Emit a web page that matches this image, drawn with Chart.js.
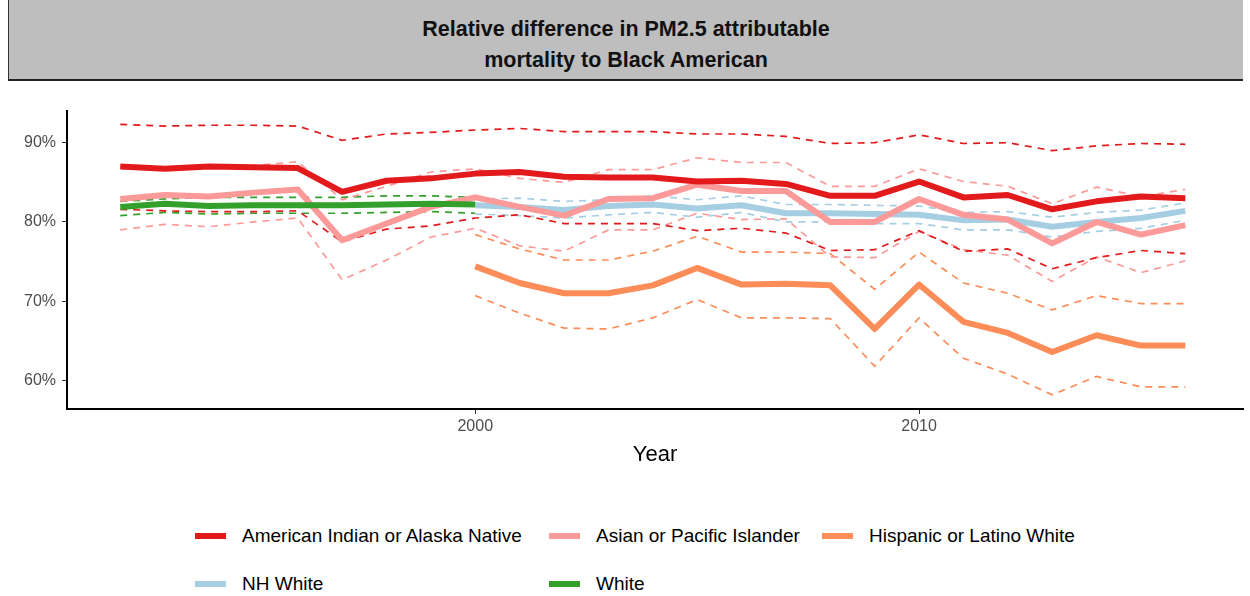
<!DOCTYPE html>
<html>
<head>
<meta charset="utf-8">
<script src="https://cdn.jsdelivr.net/npm/chart.js@4.4.1/dist/chart.umd.min.js"></script>
<style>
  body { margin: 0; width: 1250px; height: 596px; background: #fff; font-family: "Liberation Sans", Arial, sans-serif; position: relative; overflow: hidden; }
  #title { position: absolute; left: 8px; top: 0; width: 1235px; height: 81px; background: #bebebe; border-left: 1px solid #333; border-bottom: 2px solid #222; text-align: center; font-weight: bold; font-size: 21.5px; line-height: 31px; color: #111; box-sizing: border-box; padding-top: 14px; }
  #wrap { position: absolute; left: 0; top: 90px; width: 1250px; height: 382px; }
  .leg { position: absolute; font-size: 19px; color: #000; display: flex; align-items: center; }
  .sw { width: 31px; height: 6px; margin-right: 16px; }
</style>
</head>
<body>
<div id="title">Relative difference in PM2.5 attributable<br>mortality to Black American</div>
<div id="wrap"><canvas id="chart" width="1250" height="382"></canvas></div>
<div id="legend"></div>
<script>
const years = [1992, 1993, 1994, 1995, 1996, 1997, 1998, 1999, 2000, 2001, 2002, 2003, 2004,
  2005, 2006, 2007, 2008, 2009, 2010, 2011, 2012, 2013, 2014, 2015, 2016];

const aian = [87.0, 86.7, 87.0, 86.9, 86.8, 83.8, 85.2, 85.5, 86.1, 86.3, 85.7, 85.6, 85.6,
  85.1, 85.2, 84.8, 83.3, 83.3, 85.1, 83.1, 83.4, 81.6, 82.6, 83.2, 83.0];
const aianHi = [92.3, 92.1, 92.2, 92.2, 92.1, 90.3, 91.1, 91.3, 91.6, 91.8, 91.4, 91.4, 91.4,
  91.1, 91.1, 90.8, 89.9, 90.0, 91.0, 89.9, 90.0, 89.0, 89.6, 89.9, 89.8];
const aianLo = [81.6, 81.4, 81.3, 81.3, 81.4, 77.5, 79.1, 79.5, 80.5, 80.9, 79.8, 79.8, 79.8,
  78.9, 79.2, 78.6, 76.4, 76.5, 78.9, 76.3, 76.6, 74.1, 75.5, 76.4, 76.0];

const api = [82.9, 83.4, 83.2, 83.7, 84.1, 77.7, 79.8, 81.9, 83.1, 81.9, 80.8, 82.9, 83.0,
  84.7, 83.9, 83.9, 80.0, 80.0, 82.9, 80.9, 80.3, 77.3, 80.0, 78.4, 79.6];
const apiHi = [87.0, 86.9, 87.0, 87.1, 87.6, 82.8, 84.5, 86.3, 86.7, 85.5, 85.0, 86.6, 86.6,
  88.1, 87.5, 87.5, 84.5, 84.5, 86.7, 85.1, 84.5, 82.3, 84.4, 83.2, 84.1];
const apiLo = [79.0, 79.7, 79.4, 80.0, 80.5, 72.7, 75.2, 78.1, 79.2, 77.0, 76.3, 79.0, 79.0,
  81.1, 80.3, 80.4, 75.6, 75.5, 78.8, 76.5, 75.8, 72.5, 75.6, 73.6, 75.1];

const hisp = [null, null, null, null, null, null, null, null, 74.4, 72.3, 71.0, 71.0, 72.0,
  74.2, 72.1, 72.2, 72.0, 66.5, 72.1, 67.4, 66.0, 63.6, 65.7, 64.4, 64.4];
const hispHi = [null, null, null, null, null, null, null, null, 78.4, 76.6, 75.2, 75.2, 76.3,
  78.2, 76.2, 76.2, 76.0, 71.5, 76.2, 72.3, 71.0, 68.9, 70.7, 69.7, 69.7];
const hispLo = [null, null, null, null, null, null, null, null, 70.7, 68.5, 66.6, 66.5, 67.9,
  70.2, 67.9, 67.9, 67.8, 61.8, 67.9, 62.8, 60.8, 58.2, 60.5, 59.2, 59.2];

const nhw = [null, null, null, null, null, null, null, null, 82.1, 81.9, 81.5, 82.0, 82.2,
  81.7, 82.1, 81.1, 81.1, 81.0, 80.9, 80.2, 80.3, 79.4, 80.0, 80.5, 81.4];
const nhwHi = [null, null, null, null, null, null, null, null, 82.9, 83.0, 82.6, 82.8, 83.3,
  82.8, 83.3, 82.2, 82.2, 82.1, 82.0, 81.2, 81.3, 80.6, 81.2, 81.5, 82.4];
const nhwLo = [null, null, null, null, null, null, null, null, 81.0, 80.8, 80.5, 80.9, 81.2,
  80.6, 81.2, 80.0, 80.0, 79.8, 79.8, 79.0, 79.0, 78.1, 78.8, 79.2, 80.2];

const white = [81.9, 82.3, 82.0, 82.1, 82.1, 82.1, 82.2, 82.3, 82.2];
const whiteHi = [82.6, 82.9, 83.1, 83.1, 83.1, 83.1, 83.3, 83.3, 83.1];
const whiteLo = [80.8, 81.2, 81.0, 81.1, 81.1, 81.1, 81.2, 81.3, 81.1];

const groups = ['American Indian or Alaska Native', 'Asian or Pacific Islander',
  'Hispanic or Latino White', 'NH White', 'White'];
const colors = ['#e31a1c', '#fb9a99', '#fc8d59', '#a6cee3', '#33a02c'];
const yTicks = [60, 70, 80, 90];
const xTicks = [2000, 2010];

function pts(vals) {
  return vals.map((v, i) => ({ x: years[i], y: v })).filter(p => p.y !== null);
}

const series = [
  [aian, aianHi, aianLo],
  [api, apiHi, apiLo],
  [hisp, hispHi, hispLo],
  [nhw, nhwHi, nhwLo],
  [white, whiteHi, whiteLo]
];
// draw order (lower = on top)
const solidOrder = [1, 3, 5, 4, 2];

const datasets = [];
series.forEach((s, g) => {
  datasets.push({
    label: groups[g], data: pts(s[0]), borderColor: colors[g], borderWidth: 6,
    pointRadius: 0, fill: false, order: solidOrder[g], borderJoinStyle: 'round'
  });
  [s[1], s[2]].forEach(b => {
    datasets.push({
      label: groups[g] + ' CI', data: pts(b), borderColor: colors[g], borderWidth: 1.7,
      borderDash: [7, 6], pointRadius: 0, fill: false, order: 10 + g
    });
  });
});

new Chart(document.getElementById('chart'), {
  type: 'line',
  data: { datasets: datasets },
  options: {
    responsive: false,
    animation: false,
    devicePixelRatio: 1,
    layout: { padding: { top: 21, right: 7, left: 0, bottom: 0 } },
    plugins: { legend: { display: false }, tooltip: { enabled: false } },
    scales: {
      x: {
        type: 'linear', min: 1990.8, max: 2017.3,
        afterBuildTicks: s => { s.ticks = xTicks.map(v => ({ value: v })); },
        afterFit: s => { s.height = 63; },
        grid: { drawOnChartArea: false, color: '#333', tickLength: 5, lineWidth: 1 },
        border: { color: '#000', width: 2 },
        ticks: { color: '#4d4d4d', font: { size: 16, family: 'Liberation Sans' }, padding: 3, callback: v => String(v) },
        title: { display: true, text: 'Year', color: '#000', font: { size: 22, family: 'Liberation Sans' }, padding: { top: 0 } }
      },
      y: {
        min: 56.4, max: 94,
        afterBuildTicks: s => { s.ticks = yTicks.map(v => ({ value: v })); },
        afterFit: s => { s.width = 67; },
        grid: { drawOnChartArea: false, color: '#333', tickLength: 5, lineWidth: 1 },
        border: { color: '#000', width: 2 },
        ticks: { color: '#4d4d4d', font: { size: 16, family: 'Liberation Sans' }, padding: 6, callback: v => v + '%' }
      }
    }
  }
});

// legend
const legPos = [[195, 536], [549, 536], [822, 536], [195, 584], [549, 584]];
const legend = document.getElementById('legend');
groups.forEach((g, i) => {
  const d = document.createElement('div');
  d.className = 'leg';
  d.style.left = legPos[i][0] + 'px';
  d.style.top = (legPos[i][1] - 12) + 'px';
  d.style.height = '24px';
  d.innerHTML = '<span class="sw" style="background:' + colors[i] + '"></span>' + g;
  legend.appendChild(d);
});
</script>
</body>
</html>
